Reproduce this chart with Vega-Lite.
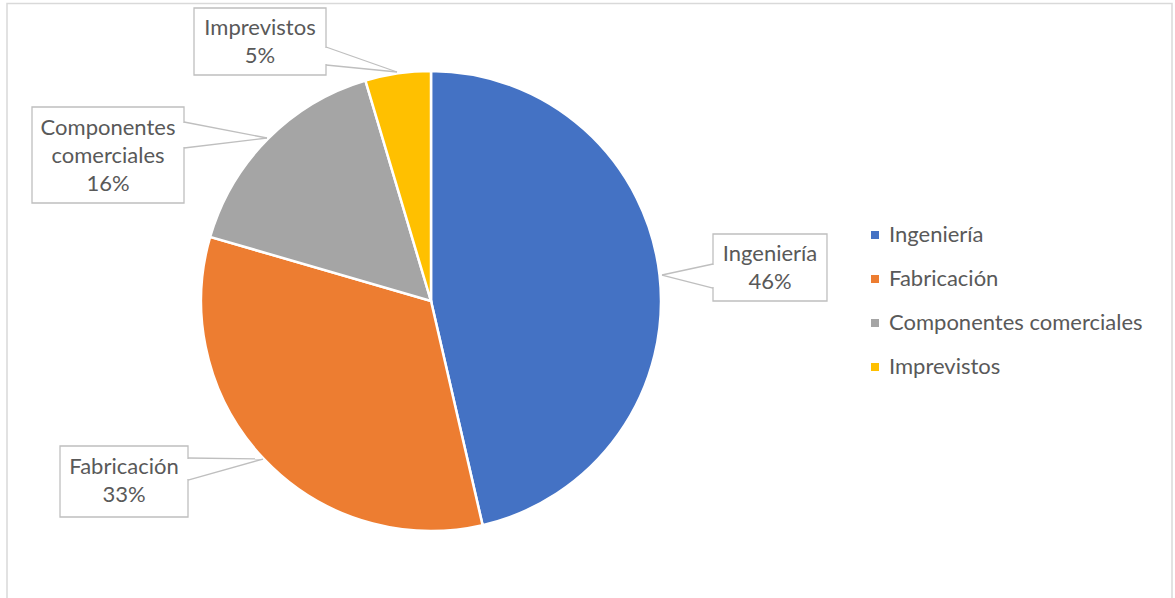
{
  "$schema": "https://vega.github.io/schema/vega-lite/v6.json",
  "autosize": {"type": "none"},
  "padding": {"left": 0, "top": 4, "right": 313, "bottom": 0},
  "width": 862,
  "height": 594,
  "background": "white",
  "config": {
    "view": {"stroke": null},
    "axis": {"disable": true},
    "text": {"font": "Lato", "fontSize": 22, "color": "#595959", "lineHeight": 28, "lineBreak": "\n", "align": "center", "baseline": "middle"}
  },
  "data": {
    "values": [
      {"category": "Ingeniería", "value": 46.4},
      {"category": "Fabricación", "value": 33.1},
      {"category": "Componentes comerciales", "value": 15.9},
      {"category": "Imprevistos", "value": 4.6}
    ]
  },
  "transform": [
    {"window": [{"op": "row_number", "as": "idx"}]},
    {"calculate": "replace(datum.category, ' ', '\\n') + '\\n' + format(datum.value / 100, '.0%')", "as": "labelText"}
  ],
  "layer": [
    {
      "data": {"values": [{}]},
      "mark": {"type": "rect", "filled": false, "color": "#D9D9D9", "strokeWidth": 1.5},
      "encoding": {
        "x": {"datum": -1.8435, "type": "quantitative", "scale": {"domain": [-1.87391, 1.87391], "nice": false, "zero": false}, "axis": null},
        "x2": {"datum": 3.2217},
        "y": {"datum": 1.2935, "type": "quantitative", "scale": {"domain": [-1.2913, 1.2913], "nice": false, "zero": false}, "axis": null},
        "y2": {"datum": -1.3217}
      }
    },
    {
      "mark": {"type": "arc", "outerRadius": 230, "stroke": "white", "strokeWidth": 2.5},
      "encoding": {
        "theta": {"field": "value", "type": "quantitative", "stack": true},
        "order": {"field": "idx", "type": "quantitative"},
        "color": {
          "field": "category",
          "type": "nominal",
          "scale": {
            "domain": ["Ingeniería", "Fabricación", "Componentes comerciales", "Imprevistos"],
            "range": ["#4472C4", "#ED7D31", "#A5A5A5", "#FFC000"]
          },
          "legend": {
            "title": null,
            "orient": "none",
            "legendX": 864,
            "legendY": 220,
            "symbolType": "square",
            "symbolSize": 64,
            "symbolStrokeWidth": 0,
            "labelFont": "Lato",
            "labelFontSize": 22,
            "labelColor": "#595959",
            "labelOffset": 3,
            "labelLimit": 400,
            "rowPadding": 22
          }
        }
      }
    },
    {
      "transform": [{"filter": "datum.category === 'Imprevistos'"}],
      "layer": [
        {"mark": {"type": "rect", "fill": "white", "stroke": "#BFBFBF", "strokeWidth": 1.3},
         "encoding": {"x": {"datum": -1.0304}, "x2": {"datum": -0.4565}, "y": {"datum": 1.2739}, "y2": {"datum": 0.9826}}},
        {"mark": {"type": "rule", "color": "white", "strokeWidth": 2},
         "encoding": {"x": {"datum": -0.4565}, "y": {"datum": 1.1000}, "x2": {"datum": -0.4565}, "y2": {"datum": 1.0304}}},
        {"mark": {"type": "rule", "color": "#BFBFBF", "strokeWidth": 1.3},
         "encoding": {"x": {"datum": -0.4565}, "y": {"datum": 1.1043}, "x2": {"datum": -0.1478}, "y2": {"datum": 0.9957}}},
        {"mark": {"type": "rule", "color": "#BFBFBF", "strokeWidth": 1.3},
         "encoding": {"x": {"datum": -0.4565}, "y": {"datum": 1.0261}, "x2": {"datum": -0.1478}, "y2": {"datum": 0.9957}}},
        {"mark": {"type": "text"},
         "encoding": {"x": {"datum": -0.7435}, "y": {"datum": 1.1848}, "text": {"field": "labelText"}}}
      ]
    },
    {
      "transform": [{"filter": "datum.category === 'Componentes comerciales'"}],
      "layer": [
        {"mark": {"type": "rect", "fill": "white", "stroke": "#BFBFBF", "strokeWidth": 1.3},
         "encoding": {"x": {"datum": -1.7348}, "x2": {"datum": -1.0739}, "y": {"datum": 0.8435}, "y2": {"datum": 0.4261}}},
        {"mark": {"type": "rule", "color": "white", "strokeWidth": 2},
         "encoding": {"x": {"datum": -1.0739}, "y": {"datum": 0.7740}, "x2": {"datum": -1.0739}, "y2": {"datum": 0.6695}}},
        {"mark": {"type": "rule", "color": "#BFBFBF", "strokeWidth": 1.3},
         "encoding": {"x": {"datum": -1.0739}, "y": {"datum": 0.7783}, "x2": {"datum": -0.7130}, "y2": {"datum": 0.7087}}},
        {"mark": {"type": "rule", "color": "#BFBFBF", "strokeWidth": 1.3},
         "encoding": {"x": {"datum": -1.0739}, "y": {"datum": 0.6652}, "x2": {"datum": -0.7130}, "y2": {"datum": 0.7087}}},
        {"mark": {"type": "text"},
         "encoding": {"x": {"datum": -1.4043}, "y": {"datum": 0.7522}, "text": {"field": "labelText"}}}
      ]
    },
    {
      "transform": [{"filter": "datum.category === 'Ingeniería'"}],
      "layer": [
        {"mark": {"type": "rect", "fill": "white", "stroke": "#BFBFBF", "strokeWidth": 1.3},
         "encoding": {"x": {"datum": 1.2261}, "x2": {"datum": 1.7217}, "y": {"datum": 0.2913}, "y2": {"datum": 0.0}}},
        {"mark": {"type": "rule", "color": "white", "strokeWidth": 2},
         "encoding": {"x": {"datum": 1.2261}, "y": {"datum": 0.1566}, "x2": {"datum": 1.2261}, "y2": {"datum": 0.0608}}},
        {"mark": {"type": "rule", "color": "#BFBFBF", "strokeWidth": 1.3},
         "encoding": {"x": {"datum": 1.2261}, "y": {"datum": 0.1609}, "x2": {"datum": 1.0043}, "y2": {"datum": 0.1130}}},
        {"mark": {"type": "rule", "color": "#BFBFBF", "strokeWidth": 1.3},
         "encoding": {"x": {"datum": 1.2261}, "y": {"datum": 0.0565}, "x2": {"datum": 1.0043}, "y2": {"datum": 0.1130}}},
        {"mark": {"type": "text"},
         "encoding": {"x": {"datum": 1.4739}, "y": {"datum": 0.2065}, "text": {"field": "labelText"}}}
      ]
    },
    {
      "transform": [{"filter": "datum.category === 'Fabricación'"}],
      "layer": [
        {"mark": {"type": "rect", "fill": "white", "stroke": "#BFBFBF", "strokeWidth": 1.3},
         "encoding": {"x": {"datum": -1.6130}, "x2": {"datum": -1.0565}, "y": {"datum": -0.6304}, "y2": {"datum": -0.9391}}},
        {"mark": {"type": "rule", "color": "white", "strokeWidth": 2},
         "encoding": {"x": {"datum": -1.0565}, "y": {"datum": -0.6869}, "x2": {"datum": -1.0565}, "y2": {"datum": -0.7740}}},
        {"mark": {"type": "rule", "color": "#BFBFBF", "strokeWidth": 1.3},
         "encoding": {"x": {"datum": -1.0565}, "y": {"datum": -0.6826}, "x2": {"datum": -0.7304}, "y2": {"datum": -0.6870}}},
        {"mark": {"type": "rule", "color": "#BFBFBF", "strokeWidth": 1.3},
         "encoding": {"x": {"datum": -1.0565}, "y": {"datum": -0.7783}, "x2": {"datum": -0.7304}, "y2": {"datum": -0.6870}}},
        {"mark": {"type": "text"},
         "encoding": {"x": {"datum": -1.3348}, "y": {"datum": -0.7217}, "text": {"field": "labelText"}}}
      ]
    }
  ]
}
